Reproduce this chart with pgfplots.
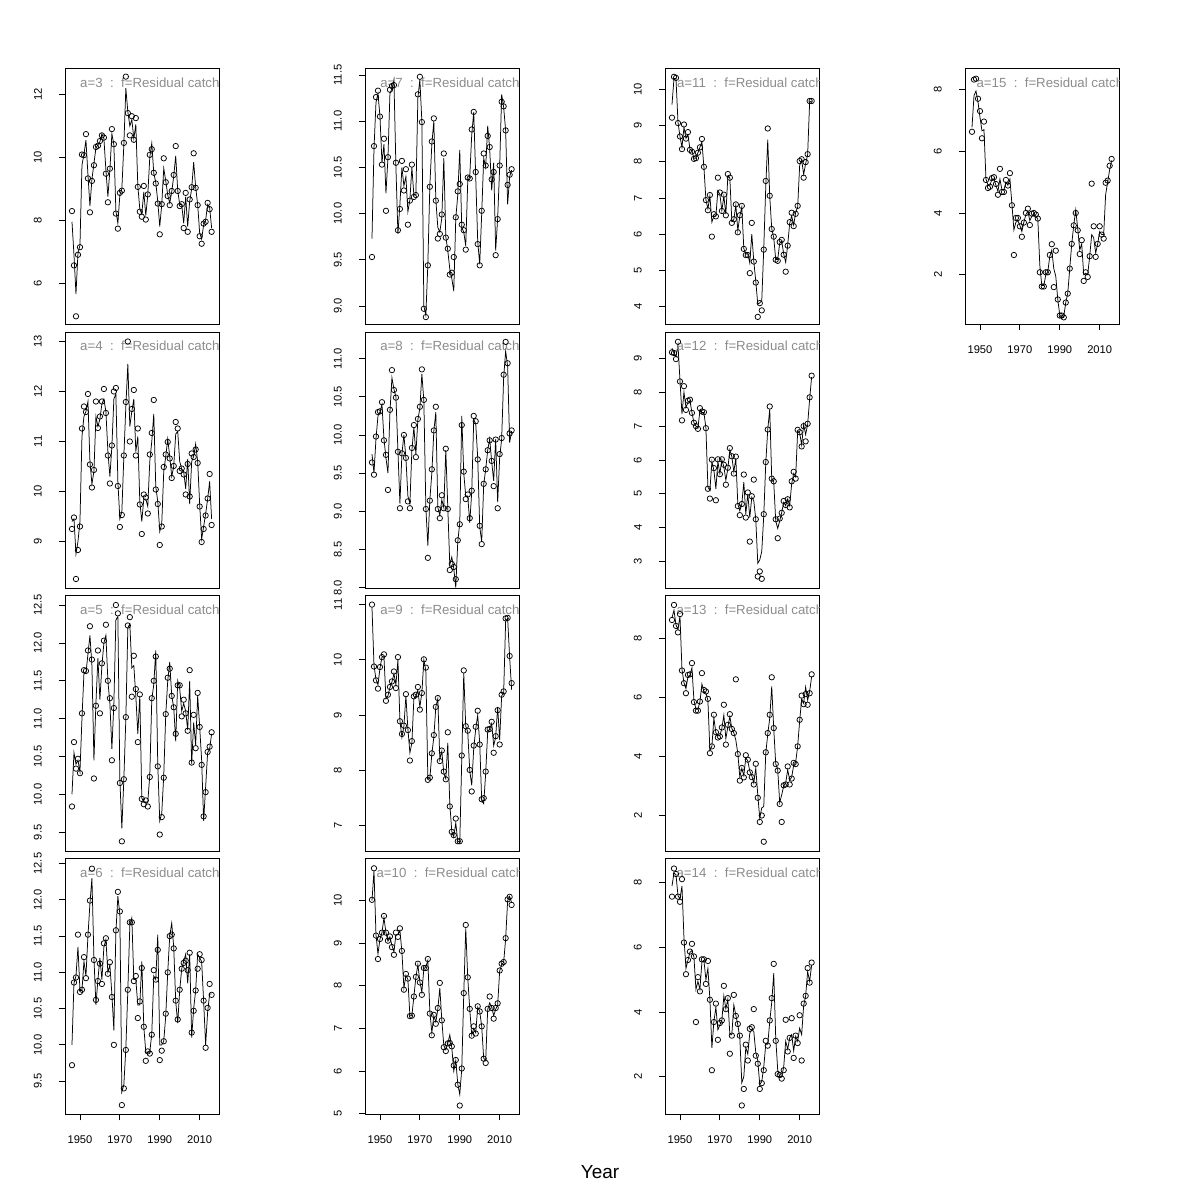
\documentclass[border=0pt]{standalone}
\usepackage{fontspec}
\setmainfont{Liberation Sans}
\usepackage{pgfplots}
\usepackage{pgfplotstable}
\pgfplotsset{compat=1.18}
\definecolor{labgray}{RGB}{140,140,140}

\pgfplotstableread{
o f
8.29 7.95
6.56 6.9
4.94 5.65
6.90 6.95
7.14 7.2
10.09 9.75
10.07 10.1
10.74 10.55
9.33 9.45
8.25 8.45
9.25 9.3
9.75 9.8
10.33 10.3
10.37 10.4
10.52 10.5
10.70 10.75
10.63 10.6
9.48 9.6
8.57 8.75
9.64 9.6
10.90 10.75
10.42 10.4
8.21 8.3
7.73 7.9
8.87 8.8
8.94 9.0
10.46 10.4
12.57 12.2
11.41 11.45
10.70 11.0
11.31 11.2
10.56 10.6
11.25 11.05
9.06 9.1
8.27 8.35
8.11 8.2
9.09 8.9
8.02 8.15
8.82 8.8
10.08 10.0
10.26 10.45
9.51 9.5
9.17 9.2
8.53 8.6
7.55 7.8
8.51 8.5
9.97 9.65
9.21 9.25
8.77 8.8
8.48 8.55
8.93 8.9
9.44 9.4
10.36 10.05
8.93 8.95
8.45 8.5
8.51 8.5
7.75 7.9
8.87 8.75
7.63 7.8
8.66 8.6
9.05 9.0
10.13 9.85
9.03 9.05
8.48 8.5
7.49 7.6
7.25 7.4
7.89 7.85
7.95 8.0
8.55 8.5
8.35 8.4
7.63 7.75
}\tA

\pgfplotstableread{
o f
9.25 9.4
9.48 9.45
8.25 8.75
8.83 9.0
9.30 9.4
11.26 11.1
11.70 11.5
11.59 11.6
11.95 11.8
10.54 10.6
10.08 10.15
10.43 10.4
11.80 11.5
11.27 11.3
11.50 11.45
11.80 11.75
12.05 11.85
11.57 11.6
10.72 10.8
10.16 10.3
10.92 10.9
12.00 11.85
12.07 11.95
10.11 10.2
9.29 9.45
9.53 9.6
10.72 10.7
11.79 11.7
13.00 12.55
11.00 11.3
11.65 11.6
12.03 11.85
10.72 10.8
11.26 11.1
9.74 9.8
9.15 9.4
9.94 9.85
9.88 9.85
9.56 9.7
10.74 10.6
11.17 11.0
11.83 11.55
10.04 10.1
9.75 9.8
8.93 9.2
9.30 9.35
10.49 10.4
10.74 10.7
10.99 11.05
10.66 10.7
10.27 10.3
10.51 10.5
11.39 11.15
11.26 11.2
10.41 10.6
10.46 10.45
10.34 10.4
9.94 10.05
10.55 10.65
9.90 9.75
10.76 10.6
10.69 10.7
10.84 10.95
10.57 10.6
9.70 9.75
8.99 9.05
9.25 9.3
9.52 9.55
9.86 9.85
10.35 10.2
9.33 9.45
}\tB

\pgfplotstableread{
o f
9.84 10.0
10.69 10.55
10.34 10.4
10.47 10.45
10.28 10.3
11.07 11.0
11.64 11.6
11.63 11.6
11.90 11.85
12.22 12.1
11.78 11.7
10.21 10.45
11.17 11.2
11.90 11.8
11.07 11.25
11.73 11.7
12.03 12.0
12.24 12.1
11.50 11.5
11.27 11.2
10.45 10.6
11.14 11.2
12.50 12.3
12.39 12.35
10.15 10.2
9.38 9.55
10.20 10.2
11.02 11.0
12.23 12.2
12.34 12.25
11.29 11.67
11.83 11.7
11.39 11.3
10.69 10.8
11.32 11.3
9.94 9.95
9.87 9.9
9.92 9.9
9.84 9.9
10.23 10.25
11.27 11.25
11.50 11.45
11.82 11.9
10.37 10.4
9.47 9.65
9.70 9.75
10.22 10.25
11.06 11.05
11.54 11.5
11.66 11.75
11.30 11.3
11.15 11.15
10.80 10.7
11.44 11.5
11.44 11.4
11.03 11.1
11.25 11.2
11.07 11.1
10.84 10.85
11.64 11.5
10.42 10.4
11.05 10.95
10.61 10.65
11.34 11.3
10.89 10.9
10.39 10.45
9.71 9.65
10.03 10.1
10.56 10.55
10.63 10.6
10.82 10.8
}\tC

\pgfplotstableread{
o f
9.72 10.0
10.86 10.85
10.93 10.95
11.52 11.35
10.73 10.75
10.76 10.75
11.21 11.15
10.92 10.95
11.52 11.5
11.99 11.95
12.43 12.3
11.17 11.2
10.62 10.55
10.88 10.9
11.12 11.2
10.84 10.9
11.40 11.35
11.47 11.45
10.98 11.0
11.14 11.1
10.66 10.7
10.00 10.2
11.58 11.55
12.11 12.05
11.84 11.8
9.17 9.35
9.40 9.45
9.93 9.95
10.76 10.75
11.69 11.65
11.69 11.75
10.88 10.9
10.95 10.9
10.37 10.55
10.60 10.55
11.06 11.15
10.25 10.25
9.78 9.9
9.91 9.9
9.88 9.9
10.14 10.15
11.03 10.95
10.90 10.9
11.31 11.52
9.79 10.0
9.92 10.0
10.05 10.05
10.43 10.4
11.00 11.0
11.50 11.5
11.52 11.68
11.33 11.35
10.61 10.6
10.35 10.3
10.76 10.75
11.05 11.05
11.13 11.15
11.16 11.25
11.03 10.85
11.27 11.25
10.17 10.1
10.47 10.5
10.75 10.75
11.05 11.25
11.25 11.2
11.17 11.15
10.61 10.6
9.96 10.0
10.51 10.45
10.84 10.7
10.69 10.7
}\tD

\pgfplotstableread{
o f
9.53 9.73
10.73 10.7
11.26 11.2
11.33 11.3
11.05 11.05
10.53 10.55
10.81 10.75
10.03 10.22
10.61 10.6
11.34 11.3
11.38 11.35
11.39 11.45
10.55 10.5
9.82 9.78
10.05 10.1
10.57 10.5
10.25 10.3
10.48 10.4
9.88 10.02
10.14 10.15
10.53 10.5
10.18 10.2
10.20 10.2
11.29 11.25
11.48 11.45
10.99 11.0
8.97 9.0
8.88 8.9
9.44 9.45
10.29 10.3
10.78 10.75
11.03 11.0
10.14 10.15
9.73 9.85
9.78 9.8
9.99 9.95
10.65 10.6
9.74 9.75
9.62 9.6
9.34 9.4
9.36 9.3
9.53 9.16
9.96 9.95
10.24 10.2
10.32 10.69
9.88 9.85
9.82 9.8
9.61 9.65
10.39 10.35
10.38 10.4
10.91 10.85
11.10 11.1
10.45 10.4
9.67 9.7
9.44 9.45
10.03 10.0
10.65 10.6
10.52 10.5
10.84 10.95
10.72 10.7
10.37 10.25
10.45 10.55
9.55 9.6
9.94 9.95
10.52 10.5
11.21 11.29
11.16 11.15
10.90 10.9
10.31 10.1
10.42 10.4
10.48 10.47
}\tE

\pgfplotstableread{
o f
9.64 9.75
9.48 9.5
9.98 9.95
10.30 10.25
10.31 10.3
10.43 10.4
9.93 9.95
9.74 9.7
9.28 9.5
10.33 10.3
10.85 10.75
10.59 10.6
10.49 10.5
9.78 9.8
9.04 9.1
9.76 9.75
10.00 10.0
9.70 9.7
9.13 9.2
9.04 9.1
9.83 9.8
10.13 10.1
9.71 9.75
10.21 10.2
10.37 10.35
10.86 10.8
10.46 10.45
9.03 9.05
8.39 8.55
9.14 9.15
9.55 9.5
10.06 10.05
10.37 10.3
9.03 9.05
8.91 8.95
9.21 9.15
9.04 9.05
9.82 9.8
9.03 9.05
8.23 8.3
8.31 8.4
8.27 8.25
8.11 8.0
8.62 8.6
8.83 8.85
10.13 10.25
9.52 9.5
9.16 9.2
9.22 9.2
8.91 8.85
9.27 9.25
10.25 10.2
10.18 10.15
9.68 9.7
8.81 8.8
8.57 8.6
9.36 9.35
9.55 9.55
9.80 9.8
9.93 9.95
9.66 9.65
9.33 9.4
9.94 9.95
9.04 9.12
9.75 9.7
9.96 9.95
10.79 10.75
11.22 11.1
10.94 10.9
10.02 9.9
10.06 10.05
}\tF

\pgfplotstableread{
o f
11.00 10.95
9.88 9.9
9.63 9.65
9.48 9.55
9.87 9.85
10.05 10.05
10.10 10.05
9.26 9.3
9.37 9.35
9.51 9.5
9.61 9.6
9.79 9.75
9.49 9.55
10.05 10.0
8.89 8.9
8.66 8.6
8.81 8.8
9.38 9.35
8.73 8.75
8.18 8.32
8.53 8.5
9.34 9.3
9.37 9.35
9.51 9.45
9.10 9.15
9.40 9.4
10.01 10.0
9.86 9.8
7.83 7.85
7.87 7.85
8.31 8.3
8.64 8.6
9.15 9.15
9.31 9.3
8.17 8.2
8.36 8.35
7.98 7.95
7.84 7.85
8.69 8.5
7.35 7.4
6.89 6.9
6.83 6.8
7.13 7.05
6.72 6.72
6.72 6.7
8.27 8.2
9.81 9.76
8.80 8.8
8.72 8.7
8.01 8.0
7.62 7.73
8.45 8.4
8.79 8.75
9.08 9.0
8.47 8.5
7.48 7.45
7.50 7.4
7.98 7.95
8.74 8.7
8.75 8.75
8.88 8.85
8.32 8.45
8.62 8.6
9.09 9.15
8.47 8.55
9.37 9.35
9.43 9.4
10.75 10.7
10.76 10.75
10.07 10.05
9.58 9.46
}\tG

\pgfplotstableread{
o f
10.02 10.0
10.76 10.7
9.18 9.2
8.63 8.75
9.10 9.1
9.25 9.25
9.64 9.6
9.25 9.25
9.06 9.05
9.16 9.15
8.91 8.95
8.73 8.8
9.25 9.2
9.15 9.2
9.35 9.3
8.82 8.8
7.91 7.95
8.28 8.25
8.17 8.15
7.29 7.3
7.30 7.3
7.75 7.75
8.21 8.2
8.52 8.5
8.08 8.1
7.79 7.85
8.42 8.4
8.42 8.45
8.63 8.6
7.35 7.4
6.84 6.9
7.32 7.3
7.11 7.15
7.48 7.45
8.07 7.95
7.19 7.2
6.56 6.6
6.47 6.5
6.65 6.65
6.66 6.85
6.58 6.55
6.13 6.0
6.26 6.25
5.68 5.7
5.19 5.45
6.06 6.05
7.83 7.8
9.43 9.35
8.20 8.2
7.46 7.45
6.83 6.85
7.05 7.0
6.88 6.9
7.52 7.5
7.40 7.4
7.05 7.05
6.29 6.3
6.19 6.25
7.46 7.45
7.75 7.6
7.48 7.5
7.23 7.3
7.48 7.45
7.59 7.55
8.36 8.35
8.52 8.5
8.56 8.55
9.12 9.1
10.03 10.0
10.09 10.1
9.90 9.95
}\tH

\pgfplotstableread{
o f
9.22 9.58
10.35 10.3
10.32 10.3
9.07 9.1
8.70 8.7
8.35 8.4
9.03 8.95
8.64 8.65
8.82 8.75
8.33 8.35
8.28 8.3
8.08 8.1
8.10 8.1
8.25 8.25
8.40 8.4
8.63 8.55
7.86 7.85
6.94 6.95
6.66 6.7
7.08 7.05
5.93 6.33
6.55 6.5
6.49 6.5
7.56 7.2
7.15 7.1
6.64 6.65
7.09 7.05
6.52 6.55
7.66 7.6
7.56 7.55
6.31 6.35
6.41 6.4
6.82 6.8
6.05 6.1
6.52 6.5
6.78 6.75
5.59 5.6
5.42 5.45
5.42 5.45
4.92 5.2
6.31 6.0
5.24 5.25
4.66 4.7
3.71 4.06
4.09 4.1
3.89 4.15
5.57 5.6
7.47 7.3
8.92 8.61
7.06 7.05
6.14 6.15
5.93 5.9
5.29 5.3
5.26 5.3
5.78 5.75
5.84 5.8
5.43 5.45
4.96 5.22
5.68 5.7
6.33 6.3
6.59 6.5
6.22 6.25
6.56 6.6
6.78 6.75
8.02 7.9
8.07 8.05
7.56 7.65
7.99 7.95
8.21 8.2
9.68 9.65
9.68 9.68
}\tI

\pgfplotstableread{
o f
9.18 9.3
9.16 9.15
8.98 9.05
9.49 9.4
8.32 8.35
7.17 7.36
8.18 8.0
7.48 7.55
7.75 7.7
7.78 7.75
7.39 7.4
7.10 7.1
7.00 7.0
6.92 6.95
7.53 7.45
7.43 7.4
7.41 7.4
6.94 6.95
5.15 5.2
4.86 5.1
6.01 5.95
5.76 5.7
4.81 5.15
6.02 5.95
5.58 5.6
6.02 6.0
5.86 5.8
5.27 5.4
5.77 5.75
6.35 6.3
6.11 6.1
5.60 5.65
6.10 6.05
4.64 4.7
4.37 4.5
4.70 4.7
5.57 5.35
4.30 4.4
5.04 5.0
3.59 4.3
4.93 4.9
5.42 4.8
4.25 4.25
2.56 2.95
2.71 3.05
2.49 3.3
4.40 4.35
5.94 5.9
6.90 6.9
7.58 7.5
5.45 5.45
5.37 5.35
4.25 4.2
3.69 3.98
4.27 4.2
4.44 4.45
4.79 4.75
4.67 4.65
4.84 4.85
4.60 4.65
5.37 5.3
5.65 5.6
5.45 5.5
6.89 6.85
6.82 6.8
6.40 6.45
7.00 7.05
6.55 6.75
7.07 7.05
7.85 7.8
8.49 8.45
}\tJ

\pgfplotstableread{
o f
8.62 8.7
9.13 8.95
8.42 8.45
8.20 8.3
8.82 8.75
6.91 6.95
6.48 6.5
6.14 6.3
6.76 6.7
6.78 6.75
7.16 7.0
5.84 5.9
5.55 5.6
5.55 5.6
5.86 5.85
6.82 6.45
6.25 6.2
6.20 6.15
5.95 5.9
4.11 4.2
4.34 4.35
5.41 5.3
4.82 4.8
4.64 4.7
4.68 4.7
4.98 4.95
5.75 5.4
4.40 4.6
5.07 5.0
5.43 5.35
4.93 4.95
4.79 4.8
6.61 4.55
4.08 4.1
3.18 3.3
3.61 3.6
3.29 3.35
4.04 3.95
3.89 3.85
3.46 3.5
3.30 3.35
3.05 3.1
3.75 3.6
2.60 2.7
1.78 1.9
2.00 2.26
1.11 2.3
4.14 4.1
4.79 4.75
5.41 5.3
6.68 6.37
4.96 4.95
3.74 3.75
3.52 3.55
2.39 2.43
1.78 2.7
3.02 3.0
3.05 3.1
3.66 3.55
3.05 3.2
3.25 3.3
3.78 3.7
3.74 3.8
4.34 4.35
5.24 5.2
6.06 5.95
5.77 5.8
6.11 6.35
5.75 5.9
6.14 6.2
6.78 6.7
}\tK

\pgfplotstableread{
o f
7.57 7.9
8.44 8.3
8.27 8.25
7.57 7.6
7.41 7.5
8.11 7.9
6.15 6.3
5.17 5.35
5.61 5.6
5.87 5.85
6.11 5.9
5.72 5.7
3.69 4.7
5.08 4.95
4.64 4.7
5.63 5.55
5.63 5.6
4.87 5.0
5.58 5.35
4.38 4.4
2.20 2.89
3.69 3.7
4.26 4.15
3.14 3.45
3.66 3.6
3.74 3.75
4.81 4.5
4.09 4.1
4.43 4.4
2.71 3.3
3.27 3.3
4.53 4.22
3.88 3.9
3.63 3.6
3.27 3.2
1.11 1.81
1.62 2.0
2.99 2.9
2.50 2.7
3.48 3.35
3.53 3.45
4.09 3.4
2.65 2.75
2.40 2.5
1.62 1.75
1.80 1.85
2.20 2.3
3.11 3.0
2.96 3.0
3.74 3.7
4.43 4.3
5.49 5.2
3.11 3.2
2.08 2.2
2.05 2.0
1.94 2.0
2.20 2.3
3.76 3.1
2.78 2.85
3.20 3.2
3.81 3.3
2.58 2.8
3.27 3.25
3.04 3.1
3.90 3.5
2.50 3.3
4.26 4.2
4.50 4.5
5.36 5.25
4.91 4.95
5.53 5.45
}\tL

\pgfplotstableread{
o f
6.63 6.77
8.32 7.8
8.35 7.95
7.70 7.6
7.30 7.1
6.42 6.66
6.96 6.7
5.07 5.1
4.81 4.9
4.85 4.9
5.13 5.1
5.16 5.1
4.94 4.9
4.59 4.7
5.43 5.1
4.68 4.75
4.68 4.75
5.07 5.0
4.89 4.9
5.29 5.1
4.25 4.3
2.64 3.45
3.84 3.7
3.84 3.75
3.57 3.6
3.23 3.4
3.69 3.7
4.00 3.95
4.14 4.05
3.61 3.75
3.98 3.9
4.00 3.95
3.95 3.9
3.82 3.8
2.08 2.3
1.62 1.65
1.62 1.65
2.08 2.0
2.08 2.1
2.64 2.6
2.99 2.8
1.60 2.2
2.78 1.95
1.20 1.2
0.68 0.7
0.68 0.6
0.62 0.65
1.10 1.1
1.39 1.4
2.20 2.2
3.00 3.0
3.60 3.6
4.00 4.1
3.44 3.5
2.67 2.8
3.12 3.0
1.80 2.0
2.08 2.05
1.93 2.0
2.60 2.6
4.95 3.3
3.57 3.2
2.58 2.7
3.00 3.0
3.57 3.4
3.30 3.3
3.17 3.3
4.98 4.6
5.05 5.0
5.53 5.4
5.75 5.7
}\tM

\pgfplotsset{
  panel/.style={
    scale only axis, width=154bp, height=256bp,
    xmin=1942.5, xmax=2019.7,
    axis line style={line width=0.8bp},
    tick style={line width=0.8bp, black},
    tick align=outside, major tick length=6bp,
    xtick=\empty, ytick pos=left, xtick pos=bottom,
    /pgf/number format/assume math mode=true,
    yticklabel style={xshift=-17bp, rotate=90, anchor=south, inner sep=0pt,
      font=\fontsize{11.2}{13}\selectfont},
    xticklabel style={yshift=-15bp, anchor=north, inner sep=0pt,
      font=\fontsize{11.2}{13}\selectfont},
    clip=true,
  },
  bottomx/.style={xtick={1950,1970,1990,2010},
    xticklabels={1950,1970,1990,2010}},
  onedec/.style={yticklabel style={/pgf/number format/.cd, fixed, fixed zerofill, precision=1}},
  fitline/.style={black, line width=0.75bp, no markers},
  pts/.style={only marks, mark=o, mark size=2.7bp, black, mark options={line width=0.75bp}},
}
\tikzset{lab/.style={text=labgray, font=\fontsize{13.3}{15}\selectfont, inner sep=0pt}}

\newcommand\panel[4]{%
  \begin{axis}[panel, at={(#1)}, anchor=south west, #2]
    \addplot[fitline] table[x expr=\coordindex+1946, y=f] {#3};
    \addplot[pts] table[x expr=\coordindex+1946, y=o] {#3};
    \node[lab] at (rel axis cs:0.551,0.945) {a=#4\ \ :\ \ f=Residual catch};
  \end{axis}}

\begin{document}
\begin{tikzpicture}[x=1bp,y=1bp]
\path[use as bounding box] (0,0) rectangle (1200,1200);
% column 1
\panel{65bp,875.5bp}{ymin=4.68, ymax=12.83, ytick={6,8,10,12}}{\tA}{3}
\panel{65bp,612bp}{ymin=8.07, ymax=13.19, ytick={9,10,11,12,13}}{\tB}{4}
\panel{65bp,348.8bp}{ymin=9.25, ymax=12.63, ytick={9.5,10,10.5,11,11.5,12,12.5}, onedec}{\tC}{5}
\panel{65bp,85.5bp}{ymin=9.04, ymax=12.57, ytick={9.5,10,10.5,11,11.5,12,12.5}, onedec, bottomx}{\tD}{6}
% column 2
\panel{365bp,875.5bp}{ymin=8.80, ymax=11.57, ytick={9,9.5,10,10.5,11,11.5}, onedec}{\tE}{7}
\panel{365bp,612bp}{ymin=7.995, ymax=11.35, ytick={8,8.5,9,9.5,10,10.5,11}, onedec}{\tF}{8}
\panel{365bp,348.8bp}{ymin=6.54, ymax=11.17, ytick={7,8,9,10,11}}{\tG}{9}
\panel{365bp,85.5bp}{ymin=4.98, ymax=10.99, ytick={5,6,7,8,9,10}, bottomx}{\tH}{10}
% column 3
\panel{665bp,875.5bp}{ymin=3.50, ymax=10.58, ytick={4,5,6,7,8,9,10}}{\tI}{11}
\panel{665bp,612bp}{ymin=2.22, ymax=9.78, ytick={3,4,5,6,7,8,9}}{\tJ}{12}
\panel{665bp,348.8bp}{ymin=0.79, ymax=9.46, ytick={2,4,6,8}}{\tK}{13}
\panel{665bp,85.5bp}{ymin=0.83, ymax=8.75, ytick={2,4,6,8}, bottomx}{\tL}{14}
% column 4
\panel{965bp,875.5bp}{ymin=0.39, ymax=8.68, ytick={2,4,6,8}, bottomx}{\tM}{15}
\node[font=\fontsize{19}{22}\selectfont] at (600,28) {Year};
\end{tikzpicture}
\end{document}
